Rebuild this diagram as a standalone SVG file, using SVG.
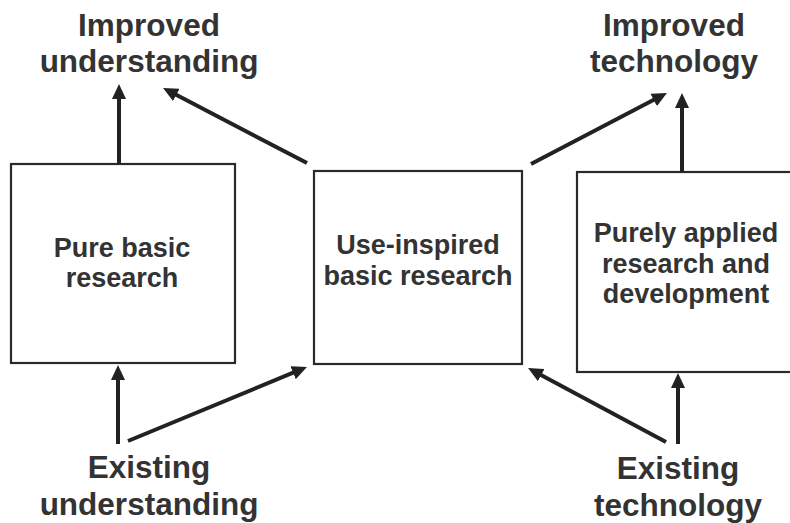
<svg xmlns="http://www.w3.org/2000/svg" width="790" height="523" viewBox="0 0 790 523">
  <style>
    .box { fill: #ffffff; stroke: #2a2a2a; stroke-width: 2.2; }
    .lbl { font-family: "Liberation Sans", Arial, sans-serif; font-weight: bold; fill: #333333; text-anchor: middle; }
    .big { font-size: 31.5px; }
    .small { font-size: 27px; }
    .arrow { fill: none; stroke: #222222; stroke-width: 4; marker-end: url(#head); }
  </style>
  <defs>
    <marker id="head" markerUnits="userSpaceOnUse" markerWidth="15" markerHeight="14" refX="4" refY="7" orient="auto">
      <path d="M0,0 L15,7 L0,14 z" fill="#222222"/>
    </marker>
  </defs>
  <rect width="790" height="523" fill="#ffffff"/>

  <!-- outcome / input labels -->
  <g id="improved-understanding">
    <text class="lbl big" x="149" y="36">Improved</text>
    <text class="lbl big" x="149" y="72">understanding</text>
  </g>
  <g id="improved-technology">
    <text class="lbl big" x="674" y="36">Improved</text>
    <text class="lbl big" x="674" y="72">technology</text>
  </g>
  <g id="existing-understanding">
    <text class="lbl big" x="149" y="478">Existing</text>
    <text class="lbl big" x="149" y="515">understanding</text>
  </g>
  <g id="existing-technology">
    <text class="lbl big" x="678" y="479">Existing</text>
    <text class="lbl big" x="678" y="516">technology</text>
  </g>

  <!-- research boxes -->
  <g id="pure-basic">
    <rect class="box" x="11" y="164" width="224" height="199"/>
    <text class="lbl small" x="122" y="257">Pure basic</text>
    <text class="lbl small" x="122" y="287">research</text>
  </g>
  <g id="use-inspired">
    <rect class="box" x="314" y="171" width="208" height="193"/>
    <text class="lbl small" x="418" y="254">Use-inspired</text>
    <text class="lbl small" x="418" y="285">basic research</text>
  </g>
  <g id="purely-applied">
    <rect class="box" x="577" y="172" width="220" height="200"/>
    <text class="lbl small" x="686" y="242">Purely applied</text>
    <text class="lbl small" x="686" y="273">research and</text>
    <text class="lbl small" x="686" y="303">development</text>
  </g>

  <!-- connectors -->
  <g id="connectors">
    <path class="arrow" d="M119,164 L119,95"/>
    <path class="arrow" d="M307,163 L172.8,93.1"/>
    <path class="arrow" d="M531,164 L657.2,98.1"/>
    <path class="arrow" d="M682,172 L682,104"/>
    <path class="arrow" d="M118,444 L118,376"/>
    <path class="arrow" d="M128,441 L296.8,371.2"/>
    <path class="arrow" d="M666,442 L537.7,373.2"/>
    <path class="arrow" d="M678,444 L678,384"/>
  </g>
</svg>
